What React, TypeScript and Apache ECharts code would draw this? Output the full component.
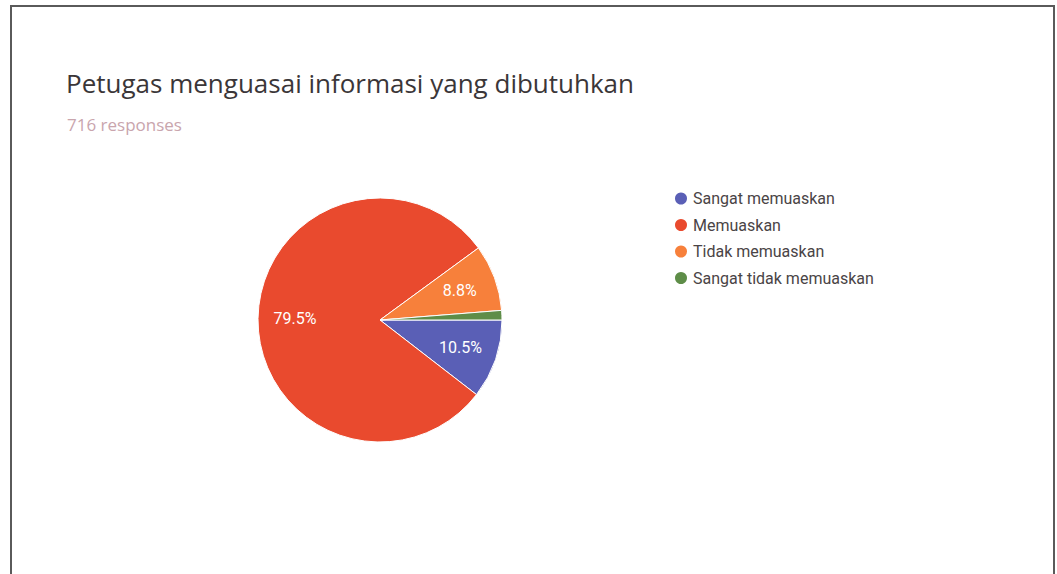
import React, { useEffect, useRef } from "react";
import * as echarts from "echarts";

const titleText = "Petugas menguasai informasi yang dibutuhkan";
const subtitleText = "716 responses";
const categories = ["Sangat memuaskan", "Memuaskan", "Tidak memuaskan", "Sangat tidak memuaskan"];
const counts = [75, 569, 63, 9];
const colors = ["#5a5fb6", "#e94a2e", "#f7803b", "#5e8d48"];

export default function App() {
  const ref = useRef<HTMLDivElement>(null);
  useEffect(() => {
    document.body.style.margin = "0";
    const chart = echarts.init(ref.current!, null, { renderer: "svg" });
    const data = categories.map((name, i) => ({
      name,
      value: counts[i],
      itemStyle: { color: colors[i] },
    }));
    const total = counts.reduce((a, b) => a + b, 0);
    chart.setOption({
      animation: false,
      backgroundColor: "#ffffff",
      title: [
        {
          text: titleText,
          left: 66,
          top: 69,
          padding: 0,
          textStyle: { fontFamily: "Open Sans", fontSize: 26, fontWeight: "normal", color: "#3b3638", lineHeight: 28 },
        },
        {
          text: subtitleText,
          left: 67,
          top: 115,
          padding: 0,
          textStyle: { fontFamily: "Open Sans", fontSize: 17, fontWeight: "normal", color: "#c9a5ad", lineHeight: 18 },
        },
      ],
      legend: {
        orient: "vertical",
        left: 673,
        top: 190,
        padding: 0,
        icon: "circle",
        itemWidth: 14,
        itemHeight: 14,
        itemGap: 9.5,
        selectedMode: false,
        data: categories,
        textStyle: { fontFamily: "Roboto", fontSize: 16, color: "#4a4446", lineHeight: 17 },
      },
      graphic: [
        {
          type: "rect",
          shape: { x: 11, y: 6, width: 1043, height: 600 },
          style: { fill: "none", stroke: "#5a5a5a", lineWidth: 2 },
          silent: true,
        },
      ],
      series: [
        {
          type: "pie",
          center: [380, 320],
          radius: [0, 122],
          startAngle: 0,
          clockwise: true,
          data,
          label: { show: false },
          labelLine: { show: false },
          itemStyle: { borderColor: "#ffffff", borderWidth: 1 },
          silent: true,
        },
        {
          type: "pie",
          center: [380, 320],
          radius: [0, 164],
          startAngle: 0,
          clockwise: true,
          z: 3,
          data: categories.map((name, i) => ({ name, value: counts[i] })),
          legendHoverLink: false,
          silent: true,
          itemStyle: { color: "rgba(0,0,0,0)", borderWidth: 0 },
          labelLine: { show: false },
          label: {
            show: true,
            position: "inside",
            fontFamily: "Roboto",
            fontSize: 16,
            color: "#ffffff",
            formatter: (p: any) => {
              const pct = (p.value / total) * 100;
              return pct < 5 ? "" : pct.toFixed(1) + "%";
            },
          },
        },
      ],
    });
    return () => chart.dispose();
  }, []);
  return <div ref={ref} style={{ position: "fixed", left: 0, top: 0, width: 1057, height: 574 }} />;
}
